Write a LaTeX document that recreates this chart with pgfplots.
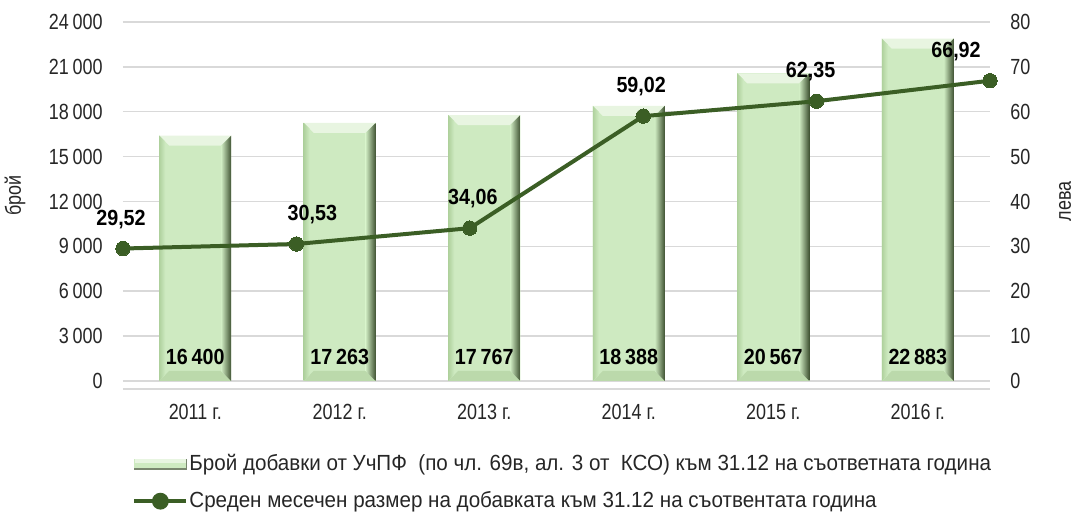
\documentclass[border=0pt]{standalone}
\usepackage{fontspec}
\setmainfont{Liberation Sans}[FakeStretch=0.82]
\newfontfamily\legfont{Liberation Sans}[FakeStretch=0.94]
\newfontfamily\labfont{Liberation Sans}[FakeStretch=0.9]
\usepackage{pgfplots}
\usepackage{pgfplotstable}
\pgfplotsset{compat=1.18}
\usetikzlibrary{calc}
\definecolor{barfill}{HTML}{CEEAC1}
\definecolor{barlight}{HTML}{E8F5E1}
\definecolor{bardark}{HTML}{3F5232}
\definecolor{barbot}{HTML}{BBD9AB}
\definecolor{barleft}{HTML}{AFD19D}
\definecolor{linec}{HTML}{3B5E25}
\definecolor{gridc}{HTML}{D9D9D9}
\definecolor{tickc}{HTML}{262626}
\tikzset{bevel/.style={path picture={
  \path[path picture={}] (path picture bounding box.south west) coordinate (SW)
        (path picture bounding box.north east) coordinate (NE);
  \fill[barlight, path picture={}] (SW|-NE) -- (NE) -- ($(NE)+(-#1,-#1)$) -- ($(SW|-NE)+(#1,-#1)$) -- cycle;
  \fill[barbot, path picture={}] (SW) -- ($(SW)+(#1,#1)$) -- ($(NE|-SW)+(-#1,#1)$) -- (NE|-SW) -- cycle;
  \shade[left color=barfill, right color=bardark, path picture={}] ($(NE)+(-#1,-#1)$) -- (NE) -- (NE|-SW) -- ($(NE|-SW)+(-#1,#1)$) -- cycle;
  \shade[left color=barleft, right color=barfill, path picture={}] (SW) -- (SW|-NE) -- ($(SW|-NE)+(0.6*#1,-0.6*#1)$) -- ($(SW)+(0.6*#1,0.6*#1)$) -- cycle;
}}}
\pgfplotsset{bevbar/.style={ybar, bar shift=0pt, bar width=36bp, fill=barfill, draw=none, bevel=5bp}}
\pgfplotstableread{
x y
0 16400
1 17263
2 17767
3 18388
4 20567
5 22883
}\bardata
\pgfplotstableread{
x y dx
0 29.52 -1
1 30.53 8
2 34.06 1.5
3 59.02 -1
4 62.35 -3
5 66.92 -17
}\linedata
\begin{document}
\begin{tikzpicture}
\useasboundingbox (-61.5bp,-69.5bp) rectangle (480bp,190.5bp);
\begin{axis}[
  at={(0,0)}, anchor=south west,
  scale only axis, width=433.5bp, height=179.5bp,
  xmin=-0.5, xmax=5.5, ymin=0, ymax=24000,
  xtick={0,1,2,3,4,5},
  xticklabels={2011 г.,2012 г.,2013 г.,2014 г.,2015 г.,2016 г.},
  ytick={0,3000,...,24000},
  scaled y ticks=false,
  axis line style={draw=none},
  tick style={draw=none},
  ymajorgrids, grid style={draw=gridc, line width=0.75bp},
  /pgf/number format/1000 sep={\,},
  /pgf/number format/assume math mode=true,
  tick label style={font=\fontsize{11}{13}\selectfont, text=tickc},
  yticklabel style={anchor=east, inner sep=0pt, xshift=-10bp},
  xticklabel style={anchor=north, inner sep=0pt, yshift=-11.5bp},
  ylabel={брой},
  ylabel style={at={(axis description cs:0,0.5)}, anchor=center, rotate=0, yshift=54bp, xshift=3bp, font=\fontsize{11}{13}\selectfont, text=tickc},
  clip=false,
]
\draw[gridc, line width=0.75bp] (axis cs:-0.5,-535) -- (axis cs:5.5,-535);
\addplot[bevbar] coordinates {(0,16400)};
\addplot[bevbar] coordinates {(1,17263)};
\addplot[bevbar] coordinates {(2,17767)};
\addplot[bevbar] coordinates {(3,18388)};
\addplot[bevbar] coordinates {(4,20567)};
\addplot[bevbar] coordinates {(5,22883)};
\addplot[draw=none, mark=none, nodes near coords, point meta=\thisrow{y},
  nodes near coords align={above},
  every node near coord/.append style={font=\labfont\bfseries\fontsize{11}{13}\selectfont, text=black, inner sep=0pt}]
  table[x=x, y expr=1083] {\bardata};
\end{axis}
\begin{axis}[
  at={(0,0)}, anchor=south west,
  scale only axis, width=433.5bp, height=179.5bp,
  xmin=0, xmax=5, ymin=0, ymax=80,
  ytick={0,10,...,80},
  axis y line*=right, axis x line=none,
  y axis line style={draw=none},
  ytick style={draw=none},
  /pgf/number format/assume math mode=true,
  yticklabel style={font=\fontsize{11}{13}\selectfont, text=tickc, anchor=west, inner sep=0pt, xshift=10bp},
  ylabel={лева},
  ylabel style={at={(axis description cs:1,0.5)}, anchor=center, rotate=0, yshift=-37.5bp, font=\fontsize{11}{13}\selectfont, text=tickc},
  clip=false,
  legend style={at={(0,0)}, anchor=north west, xshift=4.5bp, yshift=-36bp,
    draw=none, fill=none, inner sep=0pt, row sep=8bp, column sep=0pt,
    font=\legfont\fontsize{11}{13}\selectfont, text=tickc,
    nodes={inner sep=0.5bp}},
  legend cell align=left,
]
\addlegendimage{legend image code/.code={
  \fill[barfill] (0bp,-2.5bp) rectangle (26bp,2.5bp);
  \draw[bardark!70, line width=0.6bp] (0bp,-2.5bp) -- (26bp,-2.5bp) -- (26bp,2.5bp);
  \fill[barlight] (0.5bp,1bp) rectangle (25.5bp,2.5bp);
}}
\addlegendentry{Брой добавки от УчПФ\ \ (по чл. 69в, ал. 3 от\ \ КСО) към 31.12 на съответната година}
\addplot[color=linec, line width=2bp, mark=*, mark size=3.6bp,
  mark options={fill=linec, draw=linec, line width=0pt},
  nodes near coords={\pgfmathprintnumber[fixed, fixed zerofill, precision=2, use comma]{\pgfplotspointmeta}},
  point meta=\thisrow{y},
  visualization depends on={\thisrow{dx}\as\dx},
  nodes near coords align={above},
  every node near coord/.append style={font=\labfont\bfseries\fontsize{11}{13}\selectfont, text=black, inner sep=0pt, yshift=10bp, xshift=\dx bp},
  legend image code/.code={
    \draw[linec, line width=2bp] (0bp,0bp) -- (26bp,0bp);
    \fill[linec] (13bp,0bp) circle (3.2bp);
  }]
  table[x=x, y=y] {\linedata};
\addlegendentry{Среден месечен размер на добавката към 31.12 на съотвентата година}
\end{axis}
\end{tikzpicture}
\end{document}
